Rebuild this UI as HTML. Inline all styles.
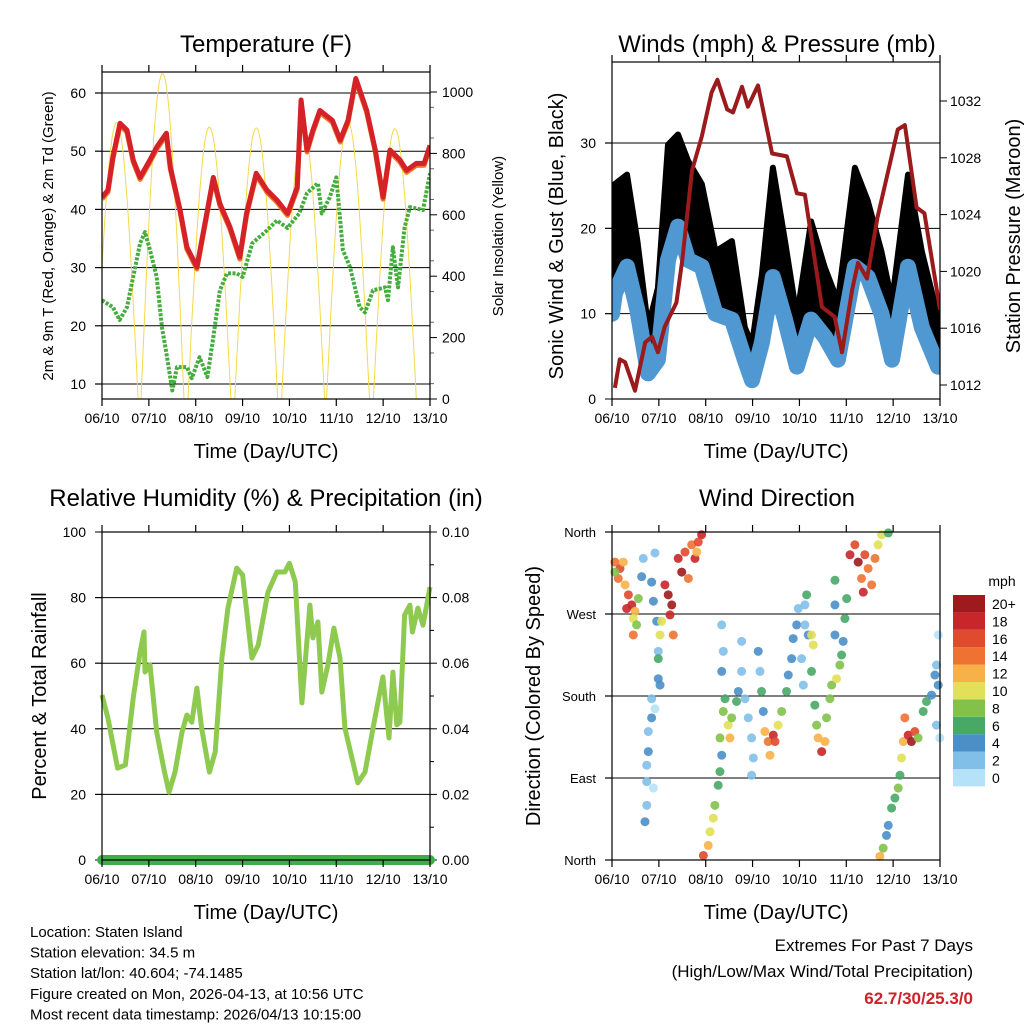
<!DOCTYPE html>
<html><head><meta charset="utf-8"><style>
body{margin:0;background:#fff}
svg{display:block;font-family:"Liberation Sans",sans-serif}
</style></head><body>
<svg id="c" width="1024" height="1024" viewBox="0 0 1024 1024"></svg>
<script>
// ---------- data ----------
const tempHours=[0,3,5.6,9.2,12.8,16,19.5,24.6,28,33,35,40,43.5,48.6,54,57,60.4,65.5,70.6,74,79,84.5,89.6,95,100,102,105,108,111.6,118,122,126,130,135.6,140,144,147.5,152.6,156,161,165,168];
const tempF=[42.1,43.3,49,54.8,53.6,48.5,45.5,48.5,50.7,53.1,47.3,39.9,33.5,30.1,39.9,45.5,41,37,31.8,39.3,46.2,43.3,41.6,39.3,43.8,58.8,50.2,53.6,57,55.3,51.9,55.3,62.5,57,50.2,42.1,50.2,48.5,46.7,47.9,47.9,51];
const dewHours=[0,5.6,9,12.8,16,19.5,22,24.6,28,30.7,33,36,38.4,43.5,46,50,54,57,60.4,64,69,72,77,84.5,89.6,95,101,105,110.6,112.6,116.7,120,123.4,127,132,134.7,138.8,145,146.5,149,151.6,155,157.7,164.4,168];
const dewF=[24.4,23.2,21,23.2,28.4,34.2,36.1,33,28.4,19.8,15.3,8.9,12.9,12.9,11,14.6,11.2,18,26.1,29,29,28.4,34.2,36.4,38.1,36.8,39.3,42.8,44.5,39.3,42.1,45.5,33,30.1,23.2,22.3,26.1,26.6,24.4,33.5,26.6,36.9,40.4,39.9,46.2];
const solarPeakHours=[7.5,31,55,79,103,126,150];
const solarPeakW=[900,1060,886,883,886,902,880];
const presHours=[1.5,4,6.7,11.8,17,20.5,23.5,27,33,36,41,46,51,54,59,62,66.6,69.6,74.8,82,89.6,94.7,98.8,107.5,114,117.8,123,126,130.6,136,146.4,150,156,160,168];
const presMb=[1011.8,1013.8,1013.6,1011.6,1015,1015.4,1014.3,1016.1,1017.8,1020.8,1027.1,1029.5,1032.6,1033.5,1031.4,1031.2,1033,1031.6,1033.1,1028.3,1028.1,1025.5,1025.4,1017.5,1016.8,1014.3,1018.7,1020.6,1019.5,1023.8,1030,1030.3,1024.5,1024.1,1017.3];
const windHours=[0,1.5,7.7,13,18.5,23.5,28.7,33.8,39,46,53,61.4,68,71.7,76.8,82.4,88.6,94.7,102,109,115.7,124.4,131,138,143.4,151.6,158.7,167,168];
const windMph=[10,12.4,15.5,10.4,3,4.6,16.3,20.2,16.3,15.5,10,9.3,4.6,2.2,6.6,14.3,9.3,3.8,9.3,7.3,4.6,15.5,14.3,10,4.6,15.5,8.4,3.8,4];
const gustMph=[16,22.2,23.3,15.5,5.4,10,26.8,28,24.9,22.2,14.3,15.5,5.4,3.4,11.6,24.1,15.5,6.6,17.8,12.4,8.4,24.1,20.2,14.3,8.4,23.3,14.3,6.6,6];
const rhHours=[0,3,8,12,16,19.5,21.5,22,24.6,28,32,34.3,37.4,41,43.5,46,48.6,51,55,58,61.4,64.5,69,72,76.8,80,85,89.6,93.7,96,99,102.4,106.5,108,110.6,112.6,115.7,118.8,121.9,124.4,131,134.7,139.8,143.9,147,149,151,152.6,155,157.7,159,161.8,164.4,168];
const rhPct=[50.3,43.3,28,29,49.4,63.4,69.5,57.3,59.5,39,26.8,20.7,26.8,39,44.2,42,52.4,40.2,26.8,32.9,61.6,76.8,89,86.9,61.6,65.5,81.7,87.8,87.8,90.5,84.8,47.9,77.7,67.7,72.6,51.2,59.5,70.7,61.6,40.2,23.5,26.8,43.3,55.8,37.2,57.3,41.2,42,74.7,77.7,69.5,76.8,71.6,83.2];
const precipIn=[0,0];
// wind direction scatter: hours, degrees, mph
const dirHours=[
1.5,4.1,3.2,6.7,5.8,8.4,10.1,7.5,11.8,10.9,13.5,12.6,1.5,
16,15.2,20.3,22,21.2,22.9,24.6,25.4,28.8,30.6,29.7,27.1,31.4,23.7,23.7,24.6,20.3,20.3,18.6,18.6,17.8,17.8,17.8,16.9,21.2,22,23.7,10.9,
33.9,35.7,37.4,40.8,42.5,45.9,44.2,39.1,43.4,
46.8,49.3,50.2,51.9,52.7,54.4,55.3,56.2,55.3,
57,57.9,59.5,60.4,61.3,63.8,64.7,66.4,66.4,68.1,69.8,71.5,72.4,71.5,56.2,56.2,57,
74.9,75.8,76.6,77.5,78.3,80,82.6,83.5,80.9,85.1,86.9,89.4,90.3,92,92.8,94.6,95.4,98.8,99.7,98.8,97.1,98,100.5,102.2,103.1,102.2,
103.9,104.8,105.6,107.4,109.1,109.9,111.6,112.5,115,116.7,117.6,118.4,114.2,114.2,114.2,119.3,120.2,
121.9,124.4,126.1,129.5,131.2,127.8,128.7,133,134.7,136.3,138.1,141.5,
137.2,138.9,140.6,141.5,143.2,144.9,146.6,147.5,148.3,149.2,150,151.7,153.4,155.1,156.8,159.4,161.1,163.7,167.1,166.2,167.1,166.2,167.9,165.4];
const dirDeg=[
327,320,309,302,327,291,280,276,273,265,287,258,316,
331,311,305,337,284,262,247,262,291,280,269,302,247,229,199,192,177,156,141,119,104,86,60,42,79,166,221,247,
331,316,338,346,331,357,349,309,338,
5,16,31,46,60,82,97,115,134,
163,177,148,134,156,174,185,207,240,177,156,134,112,93,207,258,229,
229,207,185,163,141,130,137,130,115,148,163,185,203,221,243,258,276,280,291,258,221,192,247,247,236,207,
170,148,134,119,130,156,177,192,199,214,225,240,247,280,307,265,287,
335,346,327,335,320,309,294,302,331,346,357,359,
4,13,27,38,57,68,79,93,112,130,156,137,130,141,134,163,174,181,192,214,247,148,134,203];
const dirSpeed=[
14,16,14,12,12,16,18,18,12,10,8,8,8,
2,4,4,2,4,4,10,10,20,20,18,18,14,2,4,4,2,4,2,4,2,2,2,4,0,0,6,14,
18,20,16,14,18,18,16,14,12,
16,12,10,10,8,6,6,4,8,
8,6,10,12,8,6,4,2,2,2,2,2,2,2,4,2,2,
4,2,6,4,12,14,18,16,12,10,8,6,4,4,4,4,2,2,6,2,2,2,4,10,10,6,
6,8,12,18,12,8,8,8,10,8,6,4,4,4,6,6,6,
18,16,20,16,14,14,18,14,14,10,10,6,
12,8,4,4,6,6,8,6,10,12,14,18,20,16,8,6,6,4,4,2,0,2,0,4];
// ---------- helpers ----------
const svg=document.getElementById('c');
const NS='http://www.w3.org/2000/svg';
function mk(tag,attrs,parent){const e=document.createElementNS(NS,tag);for(const k in attrs)e.setAttribute(k,attrs[k]);(parent||svg).appendChild(e);return e;}
function txt(x,y,s,size,anchor,extra){const e=mk('text',Object.assign({x:x,y:y,'font-size':size,'text-anchor':anchor||'middle',fill:'#000'},extra||{}));e.textContent=s;return e;}
const dayLabels=['06/10','07/10','08/10','09/10','10/10','11/10','12/10','13/10'];
function makeX(x0,x1){return h=>x0+h/168*(x1-x0);}
function makeY(v0,v1,y0,y1){return v=>y0+(v-v0)/(v1-v0)*(y1-y0);}
function pathFrom(xs,ys,fx,fy){return xs.map((h,i)=>(i?'L':'M')+fx(h).toFixed(1)+','+fy(ys[i]).toFixed(1)).join('');}
function frame(x0,y0,x1,y1,name){
  const g=mk('g',{});
  
  
  mk('rect',{x:x0,y:y0,width:x1-x0,height:y1-y0,fill:'none',stroke:'#000','stroke-width':1.2},g);
  for(let d=0;d<=7;d++){const x=x0+d*(x1-x0)/7;
    mk('line',{x1:x,x2:x,y1:y1,y2:y1+7,stroke:'#000','stroke-width':1.2},g);
    mk('line',{x1:x,x2:x,y1:y0,y2:y0-7,stroke:'#000','stroke-width':1.2},g);
    const t=txt(x,y1+24,dayLabels[d],14);
    
    
  }
  const xt=txt((x0+x1)/2,y1+59,'Time (Day/UTC)',20);
  
  
}
function hgrid(x0,x1,y,left){mk('line',{x1:x0,x2:x1,y1:y,y2:y,stroke:'#000','stroke-width':1});
  if(left){mk('line',{x1:x0-7,x2:x0,y1:y,y2:y,stroke:'#000','stroke-width':1.2});}
}
function title(x,y,s,name){const t=txt(x,y,s,24);}
function rtitle(x,y,s,size,name){const t=txt(0,0,s,size,'middle',{transform:'translate('+x+','+y+') rotate(-90)'});}

// ---------- Panel 1: temperature ----------
{
const X=makeX(102,430), Y=makeY(10,60,384,93), YS=makeY(0,1000,399,92);
title(266,52,'Temperature (F)','temperature-title');
const clip=mk('clipPath',{id:'cp1'});mk('rect',{x:102,y:72,width:328,height:327},clip);
for(let v=10;v<=60;v+=10){hgrid(102,430,Y(v),true);const t=txt(86,Y(v)+5,String(v),14,'end');}
for(let v=0;v<=1000;v+=200){mk('line',{x1:430,x2:437,y1:YS(v),y2:YS(v),stroke:'#000'});const t=txt(442,YS(v)+5,String(v),14,'start');}
for(let v=50;v<1050;v+=100){mk('line',{x1:430,x2:434,y1:YS(v),y2:YS(v),stroke:'#666'});}
const g=mk('g',{'clip-path':'url(#cp1)'});
solarPeakHours.forEach((p,i)=>{let d='';for(let k=-11;k<=11;k+=0.5){const h=p+k;const w=solarPeakW[i]*Math.cos(k/11*Math.PI/2);d+=(d?'L':'M')+X(h).toFixed(1)+','+YS(w).toFixed(1);}
  const e=mk('path',{d:d,fill:'none',stroke:'#f5d94a','stroke-width':1},g);
  
  });
const dp=mk('path',{d:pathFrom(dewHours,dewF,X,Y),fill:'none',stroke:'#45ad3e','stroke-width':4,'stroke-dasharray':'3 1.5','stroke-linejoin':'round'},g);


const op=mk('path',{d:pathFrom(tempHours,tempF,X,Y),fill:'none',stroke:'#f07a2a','stroke-width':5,'stroke-linejoin':'round',transform:'translate(0,2)'},g);


const rp=mk('path',{d:pathFrom(tempHours,tempF,X,Y),fill:'none',stroke:'#d42228','stroke-width':5,'stroke-linejoin':'round'},g);


frame(102,72,430,399,'temperature');
rtitle(53,236,'2m & 9m T (Red, Orange) & 2m Td (Green)',15,'temp-y-axis-title');
rtitle(503,236,'Solar Insolation (Yellow)',15,'solar-y-axis-title');
}
// ---------- Panel 2: winds ----------
{
const X=makeX(612,940), Y=makeY(0,30,399,143), YP=makeY(1012,1032,385,101);
title(777,52,'Winds (mph) & Pressure (mb)','winds-title');
const clip=mk('clipPath',{id:'cp2'});mk('rect',{x:612,y:62,width:328,height:337},clip);
for(let v=0;v<=30;v+=10){if(v>0)hgrid(612,940,Y(v),true);else mk('line',{x1:605,x2:612,y1:Y(v),y2:Y(v),stroke:'#000'});const t=txt(596,Y(v)+5,String(v),14,'end');}
for(let v=1012;v<=1032;v+=4){mk('line',{x1:940,x2:947,y1:YP(v),y2:YP(v),stroke:'#000'});const t=txt(950,YP(v)+5,String(v),14,'start');}
const g=mk('g',{'clip-path':'url(#cp2)'});
// gust cloud: area between wind and gust
let d=windHours.map((h,i)=>(i?'L':'M')+X(h).toFixed(1)+','+Y(gustMph[i]+3).toFixed(1)).join('');
for(let i=windHours.length-1;i>=0;i--)d+='L'+X(windHours[i]).toFixed(1)+','+Y(windMph[i]).toFixed(1);
const gp=mk('path',{d:d+'Z',fill:'#000',stroke:'#000','stroke-width':6,'stroke-linejoin':'round'},g);


const wp=mk('path',{d:pathFrom(windHours,windMph,X,Y),fill:'none',stroke:'#5098d2','stroke-width':16,'stroke-linejoin':'round','stroke-linecap':'round'},g);


const pp=mk('path',{d:pathFrom(presHours,presMb,X,YP),fill:'none',stroke:'#9b1a1c','stroke-width':4,'stroke-linejoin':'round'},g);


frame(612,62,940,399,'winds');
rtitle(563,236,'Sonic Wind & Gust (Blue, Black)',20,'wind-y-axis-title');
rtitle(1020,236,'Station Pressure (Maroon)',20,'pressure-y-axis-title');
}
// ---------- Panel 3: RH ----------
{
const X=makeX(102,430), Y=makeY(0,100,860,532), YR=makeY(0,0.1,860,532);
title(266,506,'Relative Humidity (%) & Precipitation (in)','rh-title');
for(let v=0;v<=100;v+=20){if(v>0&&v<100)hgrid(102,430,Y(v),true);else mk('line',{x1:95,x2:102,y1:Y(v),y2:Y(v),stroke:'#000'});const t=txt(86,Y(v)+5,String(v),14,'end');}
for(let v=0;v<=10;v++){const y=YR(v/100);mk('line',{x1:430,x2:v%2?434:437,y1:y,y2:y,stroke:'#000'});if(v%2==0){const t=txt(442,y+5,(v/100).toFixed(2),14,'start');}}
const rp=mk('path',{d:pathFrom(rhHours,rhPct,X,Y),fill:'none',stroke:'#8fca50','stroke-width':5,'stroke-linejoin':'round'});


const pr=mk('path',{d:pathFrom([0,168],precipIn,X,YR),fill:'none',stroke:'#3fae48','stroke-width':10,'stroke-linecap':'round'});


frame(102,532,430,860,'rh');
rtitle(46,696,'Percent & Total Rainfall',20,'rh-y-axis-title');
}
// ---------- Panel 4: wind direction ----------
{
const X=makeX(612,940), Y=makeY(0,360,860,532);
title(777,506,'Wind Direction','wind-direction-title');
const names=['North','East','South','West','North'];
for(let i=0;i<=4;i++){const y=Y(i*90);hgrid(612,940,y,true);const t=txt(596,y+5,names[i],13,'end');}
const colors=['#b5e2f8','#82bfe8','#4a8fc8','#48a866','#82c24a','#e2df58','#f8b048','#f07232','#e04a2e','#c8262a','#9e1a1c'];
const g=mk('g',{});
dirHours.forEach((h,i)=>{const c=mk('circle',{cx:X(h),cy:Y(dirDeg[i]),r:4.5,fill:colors[Math.min(10,Math.round(dirSpeed[i]/2))],'fill-opacity':0.9},g);
  
  });
frame(612,532,940,860,'wind-direction');
rtitle(540,696,'Direction (Colored By Speed)',20,'direction-y-axis-title');
const lg=mk('g',{});


const labs=['0','2','4','6','8','10','12','14','16','18','20+'];
for(let i=0;i<11;i++){const y=595+(10-i)*17.4;mk('rect',{x:953,y:y,width:32,height:17.4,fill:colors[i]},lg);
  const t=txt(992,y+14,labs[i],14,'start');}
const m=txt(1002,586,'mph',14,'middle');
}
// ---------- footer text ----------
['Location: Staten Island','Station elevation: 34.5 m','Station lat/lon: 40.604; -74.1485','Figure created on Mon, 2026-04-13, at 10:56 UTC','Most recent data timestamp: 2026/04/13 10:15:00'].forEach((s,i)=>{const t=txt(30,937+i*20.6,s,15,'start');});
let t1=txt(973,951,'Extremes For Past 7 Days',17,'end');
let t2=txt(973,977,'(High/Low/Max Wind/Total Precipitation)',17,'end');
let t3=txt(973,1004,'62.7/30/25.3/0',17,'end',{fill:'#cc2229','font-weight':'bold'});
</script>
</body></html>
